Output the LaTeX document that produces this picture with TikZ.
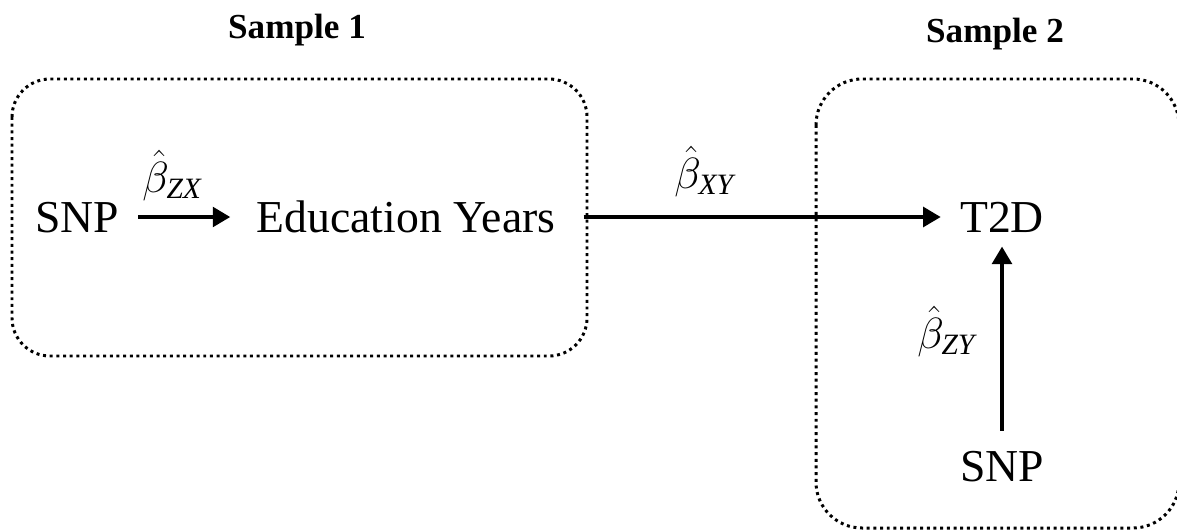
\documentclass[tikz,border=0pt]{standalone}
\usepackage{amsmath}
\usepackage{fontspec}
\setmainfont{Liberation Serif}
\usetikzlibrary{arrows.meta}

\begin{document}
\begin{tikzpicture}[x=0.02cm,y=-0.02cm,
    every node/.style={inner sep=0pt},
    word/.style={font=\fontsize{26}{30}\selectfont,text height=17.2pt,text depth=0pt},
    title/.style={font=\fontsize{20}{24}\selectfont\bfseries,anchor=base},
    coef/.style={font=\fontsize{24}{28}\selectfont,anchor=base west},
    arr/.style={line width=2.8pt,-{Triangle[length=10pt,width=11pt]}},
    sample/.style={line width=1.7pt,dash pattern=on 1.7pt off 2.1pt}]
  \useasboundingbox (0,0) rectangle (1177,531);
  \clip (0,0) rectangle (1177,531);
  % the two samples
  \draw[sample,rounded corners=0.76cm] (12,79) rectangle (587,356);
  \draw[sample,rounded corners=0.92cm] (816,79) rectangle (1179,528);
  \node[title] (sampA) at (297,38) {Sample 1};
  \node[title] (sampB) at (995,42) {Sample 2};
  % variables
  \node[word] (snpA) at (77,217) {SNP};
  \node[word] (edu) at (406,217) {Education Years};
  \node[word] (tdd) at (1002,217) {T2D};
  \node[word] (snpB) at (1002,466) {SNP};
  % effects
  \draw[arr,shorten <=0.38cm,shorten >=0.52cm] (snpA) -- (edu);
  \draw[arr,shorten <=0.56cm,shorten >=0.38cm] (edu) -- (tdd);
  \draw[arr,shorten <=0.4cm,shorten >=0.28cm] (snpB) -- (tdd);
  \node[coef] (bZX) at (142,192) {$\hat{\beta}_{\textit{ZX}}$};
  \node[coef] (bXY) at (674,188) {$\hat{\beta}_{\textit{XY}}$};
  \node[coef] (bZY) at (917,348) {$\hat{\beta}_{\textit{ZY}}$};
\end{tikzpicture}
\end{document}
